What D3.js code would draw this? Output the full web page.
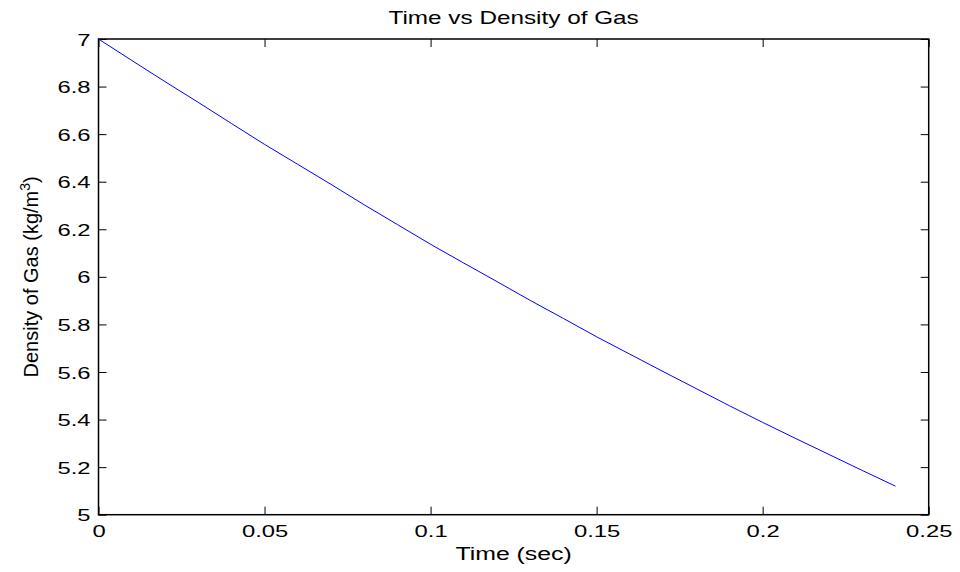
<!DOCTYPE html>
<html>
<head>
<meta charset="utf-8">
<script src="https://cdn.jsdelivr.net/npm/d3@7"></script>
<style>
  body { margin: 0; background: #fff; }
  svg { display: block; }
  text { font-family: "Liberation Sans", Arial, Helvetica, sans-serif; fill: #000; }
</style>
</head>
<body>
<svg id="chart" width="960" height="572"></svg>
<script>
// Data
const time = [0, 0.01, 0.02, 0.03, 0.04, 0.05, 0.06, 0.07, 0.08, 0.09, 0.10, 0.11, 0.12,
              0.13, 0.14, 0.15, 0.16, 0.17, 0.18, 0.19, 0.20, 0.21, 0.22, 0.23, 0.24];
const density = [7.000, 6.910, 6.821, 6.734, 6.645, 6.557, 6.473, 6.389, 6.303, 6.220, 6.137,
                 6.058, 5.980, 5.901, 5.825, 5.748, 5.675, 5.602, 5.530, 5.458, 5.388,
                 5.320, 5.253, 5.186, 5.120];
const xTicks = [0, 0.05, 0.1, 0.15, 0.2, 0.25];
const xTickLabels = ["0", "0.05", "0.1", "0.15", "0.2", "0.25"];
const yTicks = [5, 5.2, 5.4, 5.6, 5.8, 6, 6.2, 6.4, 6.6, 6.8, 7];
const yTickLabels = ["5", "5.2", "5.4", "5.6", "5.8", "6", "6.2", "6.4", "6.6", "6.8", "7"];
const titleText = "Time vs Density of Gas";
const xLabelText = "Time (sec)";

const svg = d3.select("#chart");
const L = 98.5, R = 928.7, T = 39, B = 514.7;
const x = d3.scaleLinear().domain([0, 0.25]).range([L, R]);
const y = d3.scaleLinear().domain([5, 7]).range([B, T]);
const SX = 1.4;

// Axes (ticks pointing inward)
const gB = svg.append("g").attr("transform", `translate(0,${B})`)
  .call(d3.axisBottom(x).tickValues(xTicks).tickFormat((d, i) => xTickLabels[i]).tickSizeInner(-8).tickSizeOuter(0).tickPadding(10));
const gT = svg.append("g").attr("transform", `translate(0,${T})`)
  .call(d3.axisTop(x).tickValues(xTicks).tickFormat("").tickSizeInner(-8).tickSizeOuter(0));
const gL = svg.append("g").attr("transform", `translate(${L},0)`)
  .call(d3.axisLeft(y).tickValues(yTicks).tickFormat((d, i) => yTickLabels[i]).tickSizeInner(-8).tickSizeOuter(0).tickPadding(8));
const gR = svg.append("g").attr("transform", `translate(${R},0)`)
  .call(d3.axisRight(y).tickValues(yTicks).tickFormat("").tickSizeInner(-8).tickSizeOuter(0));

[gB, gT, gL, gR].forEach(g => {
  g.select(".domain").remove();
  g.selectAll(".tick line").attr("stroke", "#000").attr("stroke-width", 1);
});
gB.selectAll(".tick text").attr("font-size", 17).attr("fill", "#000")
  .attr("transform", `scale(${SX},1)`);
gL.selectAll(".tick text").attr("font-size", 17).attr("fill", "#000")
  .attr("x", -8 / SX).attr("dy", "0.36em")
  .attr("transform", `scale(${SX},1)`);

// Frame
svg.append("rect").attr("x", L).attr("y", T).attr("width", R - L).attr("height", B - T)
  .attr("fill", "none").attr("stroke", "#000").attr("stroke-width", 1.5);

// Line
const pts = time.map((t, i) => [t, density[i]]);
svg.append("path").datum(pts)
  .attr("fill", "none").attr("stroke", "#0000ff").attr("stroke-width", 1)
  .attr("d", d3.line().x(d => x(d[0])).y(d => y(d[1])));

// Title
const cx = (L + R) / 2;
svg.append("text").attr("transform", `translate(${cx},24) scale(1.35,1)`)
  .attr("text-anchor", "middle").attr("font-size", 18).text(titleText);

// X label
svg.append("text").attr("transform", `translate(${cx},560) scale(1.38,1)`)
  .attr("text-anchor", "middle").attr("font-size", 18).text(xLabelText);

// Y label
const yl = svg.append("text").attr("transform", `translate(38,${(T + B) / 2}) rotate(-90)`)
  .attr("text-anchor", "middle").attr("font-size", 20);
yl.append("tspan").text("Density of Gas (kg/m");
yl.append("tspan").attr("font-size", 14).attr("dy", -8).text("3");
yl.append("tspan").attr("dy", 8).text(")");
</script>
</body>
</html>
